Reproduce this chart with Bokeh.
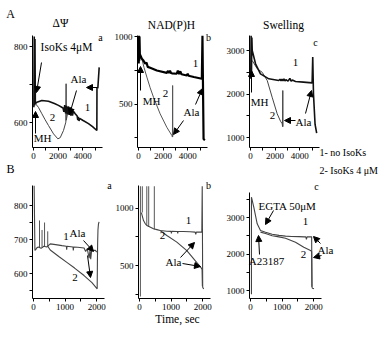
from bokeh.plotting import figure
from bokeh.layouts import column, row
from bokeh.models import Label, Arrow, NormalHead, FixedTicker, Range1d
from bokeh.embed import file_html
from bokeh.resources import INLINE

FONT = "Liberation Serif"

# ---------------- data (time in s, signal in instrument units) ----------------
# A-a  membrane potential
aa_t1 = [30, 60, 90, 120, 150, 270, 680, 1220, 1700, 2030, 2400, 2470, 2540, 2610, 2680, 2750, 2820, 2890,
         2960, 3030, 3100, 3170, 3240, 3390, 3550, 3600, 3650, 3700, 3750, 4000, 4470, 4800, 5150, 5160, 5230, 5340]
aa_v1 = [640, 826, 645, 820, 650, 653, 658, 656, 650, 645, 638, 628, 646, 624, 644, 622, 642, 620,
         640, 618, 636, 618, 630, 623, 617, 606, 615, 604, 611, 606, 597, 589, 579, 693, 690, 745]
aa_t2 = [150, 400, 680, 950, 1220, 1630, 1980, 2170, 2440, 2630, 2650, 2665, 2790, 2870, 2950, 3030, 3110, 3200]
aa_v2 = [650, 640, 623, 607, 592, 570, 557, 560, 579, 601, 702, 606, 627, 642, 624, 640, 622, 632]
# A-b  NAD(P)H
ab_t1 = [20, 40, 60, 80, 110, 270, 400, 545, 650, 750, 950, 1490, 2300, 2400, 2480, 2560, 2640, 2720, 3110,
         3200, 3300, 3400, 3500, 3930, 4000, 4070, 4500, 5150, 5200, 5290, 5400]
ab_v1 = [800, 1005, 820, 1000, 870, 835, 822, 798, 808, 775, 768, 748, 731, 745, 729, 746, 730, 727, 724,
         748, 722, 742, 720, 711, 724, 709, 700, 687, 1005, 240, 233]
ab_t2 = [270, 450, 680, 950, 1220, 1760, 2300, 2710, 2760, 2775, 2790]
ab_v2 = [835, 770, 699, 620, 550, 427, 328, 267, 255, 637, 258]
# A-c  swelling
ac_t1 = [20, 50, 80, 110, 140, 410, 810, 1490, 2300, 2400, 2480, 2560, 2640, 2720, 2800, 2880, 3050, 3200,
         3300, 3400, 3660, 4300, 5010, 5060, 5120, 5250, 5380]
ac_v1 = [2350, 3340, 2500, 3300, 3000, 2694, 2464, 2349, 2310, 2340, 2300, 2345, 2300, 2350, 2300, 2330, 2295, 2360,
         2295, 2320, 2287, 2272, 2256, 2850, 2000, 1300, 1100]
ac_t2 = [140, 545, 950, 1360, 1760, 2170, 2440, 2580, 2610, 2625, 2640]
ac_v2 = [2770, 2580, 2500, 2310, 1926, 1545, 1375, 1315, 1250, 2080, 1250]
# B-a
ba_t1 = [20, 45, 70, 100, 150, 240, 330, 420, 530, 700, 900, 1040, 1050, 1060, 1250, 1260, 1270, 1400, 1600,
         1650, 1700, 1740, 1760, 1790, 1810, 1840, 1960, 2000]
ba_v1 = [858, 668, 670, 675, 678, 674, 680, 678, 687, 685, 682, 680, 670, 680, 678, 668, 678, 677, 675,
         665, 673, 655, 645, 670, 642, 668, 668, 663]
ba_spk_t = [190, 270, 350, 450]
ba_spk_top = [756, 728, 750, 724]
ba_spk_base = [676, 676, 679, 679]
ba_t2 = [450, 530, 800, 1066, 1300, 1600, 1850, 2015, 2022, 2030, 2040, 2055, 2075]
ba_v2 = [680, 669, 650, 632, 616, 594, 573, 555, 630, 690, 728, 745, 752]
# B-b
bb_t1 = [60, 127, 180, 232, 330, 443, 550, 654, 865, 1000, 1010, 1020, 1200, 1210, 1220, 1392, 1600, 1762,
         1780, 1800, 1900, 1972, 1985, 2000, 2030]
bb_v1 = [960, 891, 865, 848, 835, 819, 812, 804, 798, 797, 780, 797, 796, 780, 796, 796, 793, 790,
         770, 790, 790, 790, 1190, 310, 295]
bb_spk_t = [30, 90, 230, 290, 470]
bb_spk_top = [1190, 1190, 1190, 1190, 1190]
bb_spk_base = [230, 960, 850, 835, 812]
bb_t2 = [654, 865, 1181, 1498, 1762, 1951, 1980, 1990]
bb_v2 = [804, 761, 703, 630, 543, 480, 465, 320]
# B-c
bc_t1 = [30, 30, 104, 212, 316, 475, 686, 900, 1108, 1300, 1528, 1700, 1750, 1770, 1790, 1899, 1935, 1945, 1960, 2010]
bc_v1 = [900, 3556, 3282, 2827, 2644, 2598, 2540, 2510, 2490, 2480, 2475, 2470, 2470, 2400, 2470, 2470, 2470, 1100, 1060, 1047]
bc_t2 = [316, 475, 686, 900, 1108, 1424, 1687, 1899, 1935, 1945]
bc_v2 = [2600, 2560, 2500, 2470, 2430, 2323, 2186, 2096, 2070, 1100]

xticks_A = [0, 2000, 4000]
xminor_A = [1000, 3000, 5000]
xticks_B = [0, 1000, 2000]
xminor_B = [500, 1500]


def D(g, X, Y):
    """page pixel -> data coordinates of one panel"""
    x = g["xr"][0] + (X - g["fx"]) / g["fw"] * (g["xr"][1] - g["xr"][0])
    y = g["yr"][1] - (Y - g["fy"]) / g["fh"] * (g["yr"][1] - g["yr"][0])
    return x, y


def make(fig, cal, axbox, yt, ym, xt, xm):
    fx, fy, w, h = fig
    x0px, kx, yv, ypx, ky = cal
    xr = ((fx - x0px) / kx, (fx + w - x0px) / kx)
    yr = (yv - (fy + h - ypx) / ky, yv + (ypx - fy) / ky)
    p = figure(width=w, height=h, x_range=Range1d(*xr), y_range=Range1d(*yr),
               output_backend="svg", toolbar_location=None, title=None,
               min_border_left=0, min_border_right=0, min_border_top=0, min_border_bottom=0)
    p.outline_line_color = None
    p.grid.visible = False
    p.background_fill_color = "white"
    p.border_fill_color = "white"
    g = dict(fx=fx, fy=fy, fw=w, fh=h, xr=xr, yr=yr)
    L, T, R, B = axbox
    xl, yt_ = D(g, L, T)
    xrr, yb = D(g, R, B)
    p.xaxis.fixed_location = yb
    p.xaxis.bounds = (xl, xrr)
    p.yaxis.fixed_location = xl
    p.yaxis.bounds = (yb, yt_)
    p.xaxis.ticker = FixedTicker(ticks=xt, minor_ticks=xm)
    p.yaxis.ticker = FixedTicker(ticks=yt, minor_ticks=ym)
    for ax in (p.xaxis, p.yaxis):
        ax.axis_line_color = "black"
        ax.axis_line_width = 1
        ax.major_tick_in = 0
        ax.major_tick_out = 3
        ax.minor_tick_in = 0
        ax.minor_tick_out = 3
        ax.major_tick_line_color = "black"
        ax.minor_tick_line_color = "black"
        ax.major_label_text_font = FONT
        ax.major_label_text_font_size = "9px"
        ax.major_label_text_color = "black"
        ax.major_label_standoff = 2
    return p, g


def lab(p, g, X, Y, text, size="11px", align="center"):
    x, y = D(g, X, Y)
    p.add_layout(Label(x=x, y=y, text=text, text_font=FONT,
                       text_font_size=size, text_align=align, text_baseline="middle", text_color="black"))


def arr(p, g, X0, Y0, X1, Y1):
    x0, y0 = D(g, X0, Y0)
    x1, y1 = D(g, X1, Y1)
    p.add_layout(Arrow(end=NormalHead(size=6, fill_color="black", line_color="black", line_width=1),
                       x_start=x0, y_start=y0, x_end=x1, y_end=y1, line_color="black", line_width=1))


HA = 163          # height of row A (page px)
HB = 337 - HA     # height of row B

# ---------------- row A ----------------
pa, ga = make((0, 0, 112, HA), (33, 0.0123, 800, 46, 0.38), (32, 35, 102, 147),
              [600, 800], [700], xticks_A, xminor_A)
pa.line(aa_t2, aa_v2, line_color="#444", line_width=1)
pa.line(aa_t1, aa_v1, line_color="#111", line_width=1.6)
lab(pa, ga, 10, 13, "A", "12px")
lab(pa, ga, 60, 22, "ΔΨ", "11.5px")
lab(pa, ga, 100, 37, "a", "10px")
lab(pa, ga, 66, 46, "IsoKs 4μM", "11.5px")
lab(pa, ga, 78, 78, "Ala")
lab(pa, ga, 87, 107, "1")
lab(pa, ga, 52, 117, "2")
lab(pa, ga, 42, 137, "MH")
arr(pa, ga, 41, 62, 36, 92)
arr(pa, ga, 35, 133, 35, 111)
arr(pa, ga, 76, 90, 69, 114)
arr(pa, ga, 97, 87, 86, 87)

pb, gb = make((112, 0, 111, HA), (138, 0.0123, 1000, 36, 0.135), (137, 35, 207, 147),
              [500, 1000], [250, 750], xticks_A, xminor_A)
pb.line(ab_t2, ab_v2, line_color="#555", line_width=1)
pb.line(ab_t1, ab_v1, line_color="black", line_width=2.2)
lab(pb, gb, 171, 24, "NAD(P)H", "11.5px")
lab(pb, gb, 208, 37, "b", "10px")
lab(pb, gb, 195, 63, "1")
lab(pb, gb, 165, 93, "2")
lab(pb, gb, 151, 100, "MH")
lab(pb, gb, 191, 111, "Ala")
arr(pb, gb, 140, 90, 140, 66)
arr(pb, gb, 195, 104, 202, 88)
arr(pb, gb, 183, 120, 173, 134)

pc, gc = make((223, 0, 156, HA), (250, 0.0123, 3000, 50, 0.0435), (249, 35, 319, 147),
              [1000, 2000, 3000], [1500, 2500], xticks_A, xminor_A)
pc.line(ac_t2, ac_v2, line_color="#444", line_width=1)
pc.line(ac_t1, ac_v1, line_color="#111", line_width=1.6)
lab(pc, gc, 283, 24, "Swelling", "11.5px")
lab(pc, gc, 315, 42, "c", "10px")
lab(pc, gc, 295, 62, "1")
lab(pc, gc, 259, 101, "MH")
lab(pc, gc, 272, 115, "2")
lab(pc, gc, 303, 121, "Ala")
lab(pc, gc, 319, 152, "1- no IsoKs", "10px", "left")
arr(pc, gc, 251, 92, 251, 70)
arr(pc, gc, 295, 120, 284, 120)
arr(pc, gc, 305, 113, 311, 90)

# ---------------- row B ----------------
qa, ha = make((0, HA, 112, HB), (33, 0.0316, 800, 205, 0.34), (32, 185, 104, 298),
              [600, 700, 800], [550, 650, 750], xticks_B, xminor_B)
qa.segment(x0=ba_spk_t, y0=ba_spk_base, x1=ba_spk_t, y1=ba_spk_top, line_color="#555", line_width=1)
qa.line(ba_t1, ba_v1, line_color="#444", line_width=1.1)
qa.line(ba_t2, ba_v2, line_color="#444", line_width=1.1)
lab(qa, ha, 10, 168, "B", "12px")
lab(qa, ha, 109, 185, "a", "10px")
lab(qa, ha, 77, 232, "Ala")
lab(qa, ha, 65.5, 236, "1")
lab(qa, ha, 74.5, 277, "2")
arr(qa, ha, 83, 240, 93, 251)
arr(qa, ha, 87, 255, 90, 277)

qb, hb = make((112, HA, 111, HB), (139, 0.0316, 1000, 207.5, 0.115), (138, 185, 210, 298),
              [500, 1000], [250, 750], xticks_B, xminor_B)
qb.segment(x0=bb_spk_t, y0=bb_spk_base, x1=bb_spk_t, y1=bb_spk_top, line_color="#666", line_width=1.1)
qb.line(bb_t1, bb_v1, line_color="#444", line_width=1.1)
qb.line(bb_t2, bb_v2, line_color="#444", line_width=1.1)
lab(qb, hb, 208, 185, "b", "10px")
lab(qb, hb, 188, 220, "1")
lab(qb, hb, 162, 235, "2")
lab(qb, hb, 173, 261, "Ala")
lab(qb, hb, 177, 318, "Time, sec", "11.5px")
arr(qb, hb, 180, 257, 194, 242)
arr(qb, hb, 182, 263, 200, 266)

qc, hc = make((223, HA, 156, HB), (250, 0.0316, 3000, 217, 0.0365), (249, 192, 321, 298),
              [1000, 2000, 3000], [1500, 2500, 3500], xticks_B, xminor_B)
qc.line(bc_t1, bc_v1, line_color="#444", line_width=1.1)
qc.line(bc_t2, bc_v2, line_color="#444", line_width=1.1)
lab(qc, hc, 319, 170, "2- IsoKs 4 μM", "10px", "left")
lab(qc, hc, 316, 186, "c", "10px")
lab(qc, hc, 287, 205, "EGTA 50μM")
lab(qc, hc, 305, 221, "1")
lab(qc, hc, 303, 254, "2")
lab(qc, hc, 325, 249, "Ala")
lab(qc, hc, 266, 260, "A23187")
arr(qc, hc, 273, 210, 265, 224)
arr(qc, hc, 259, 254, 258, 235)
arr(qc, hc, 320, 243, 313, 236)
arr(qc, hc, 321, 255, 313, 257)

layout = column(row(pa, pb, pc, spacing=0), row(qa, qb, qc, spacing=0), spacing=0)
open("out.html", "w").write(file_html(layout, INLINE))
